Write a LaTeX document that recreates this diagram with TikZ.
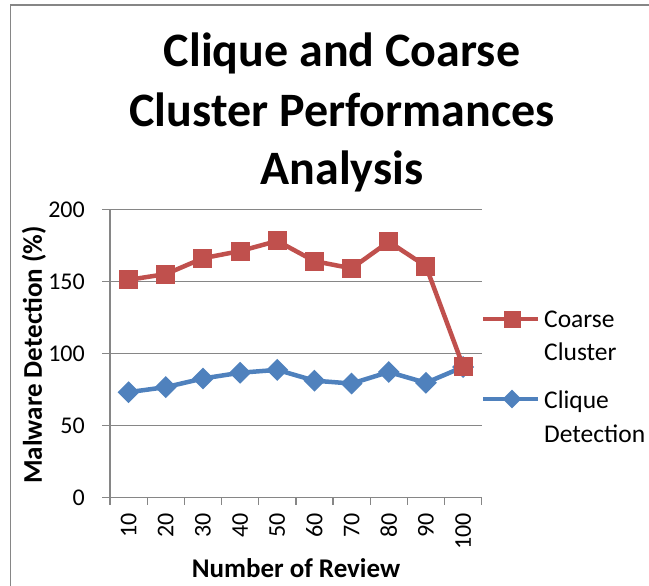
\documentclass[tikz,border=0pt]{standalone}
\usepackage{fontspec}
\setmainfont{Carlito}
\usetikzlibrary{shapes.geometric}
\definecolor{redS}{RGB}{192,80,77}
\definecolor{blueS}{RGB}{79,129,189}
\definecolor{gridc}{RGB}{134,134,134}
\tikzset{
  gridline/.style={draw=gridc, line width=1.3pt},
  frameline/.style={draw=gridc, line width=1.6pt},
  serline/.style={line width=4.5pt, line join=round},
  sqmark/.style={rectangle, fill=redS, minimum size=19pt, inner sep=0pt},
  dmmark/.style={diamond, fill=blueS, minimum width=22pt, minimum height=22pt, inner sep=0pt},
  ticklab/.style={font=\fontsize{24}{28}\selectfont, inner sep=0pt},
  axlab/.style={font=\fontsize{27}{32}\selectfont\bfseries, inner sep=0pt},
  leglab/.style={font=\fontsize{25.5}{30}\selectfont, inner sep=0pt, anchor=base west},
  titlelab/.style={font=\fontsize{48}{59}\selectfont\bfseries, anchor=base},
}
\begin{document}
\begin{tikzpicture}[x=1pt,y=-1pt]
\useasboundingbox (0,0) rectangle (649,586);
% outer frame (left and top only visible)
\draw[frameline] (10.5,586) -- (10.5,5) -- (649,5);
% title
\node[titlelab] (t1) at (342,67) {Clique and Coarse};
\node[titlelab] (t2) at (342,127) {Cluster Performances};
\node[titlelab] (t3) at (342,185) {Analysis};
% grid and axes
\foreach \v in {0,50,100,150,200}{
  \draw[gridline] (102,{497.3-1.44*\v}) -- (481.7,{497.3-1.44*\v});
  \node[ticklab, anchor=east] (yl\v) at (85,{497.3-1.44*\v}) {\v};
}
\draw[gridline] (110,209) -- (110,505);
\foreach \i in {1,...,10}{
  \draw[gridline] ({110+37.17*\i},497.3) -- ({110+37.17*\i},505);
}
\foreach \i/\lab in {1/10,2/20,3/30,4/40,5/50,6/60,7/70,8/80,9/90,10/100}{
  \node[ticklab, rotate=90, anchor=east] (xl\i) at ({110+37.17*(\i-0.5)},513) {\lab};
}
\node[axlab, rotate=90] (ylab) at (34,355) {Malware Detection (\%)};
\node[axlab] (xlab) at (296,568) {Number of Review};
% data coordinates
\foreach \i/\v in {1/73,2/76.5,3/82.5,4/86.5,5/88.5,6/81,7/79,8/87,9/79.5,10/90.5}{
  \coordinate (b\i) at ({110+37.17*(\i-0.5)},{497.3-1.44*\v});
}
\foreach \i/\v in {1/151,2/155,3/166,4/171,5/178,6/164,7/159,8/177.5,9/160.5,10/91}{
  \coordinate (r\i) at ({110+37.17*(\i-0.5)},{497.3-1.44*\v});
}
% blue series
\draw[serline, blueS] (b1) -- (b2) -- (b3) -- (b4) -- (b5) -- (b6) -- (b7) -- (b8) -- (b9) -- (b10);
\foreach \i in {1,...,10}{ \node[dmmark] (bm\i) at (b\i) {}; }
% red series
\draw[serline, redS] (r1) -- (r2) -- (r3) -- (r4) -- (r5) -- (r6) -- (r7) -- (r8) -- (r9) -- (r10);
\foreach \i in {1,...,10}{ \node[sqmark] (rm\i) at (r\i) {}; }
% legend
\coordinate (lr1) at (483,319);
\coordinate (lr2) at (538,319);
\draw[serline, redS] (lr1) -- (lr2);
\node[sqmark, minimum size=17pt] (lrm) at (512,319) {};
\node[leglab] (lrt1) at (544,327) {Coarse};
\node[leglab] (lrt2) at (544,360) {Cluster};
\coordinate (lb1) at (483,399);
\coordinate (lb2) at (538,399);
\draw[serline, blueS] (lb1) -- (lb2);
\node[dmmark, minimum width=19pt, minimum height=19pt] (lbm) at (512,399) {};
\node[leglab] (lbt1) at (544,408) {Clique};
\node[leglab] (lbt2) at (544,442) {Detection};
\end{tikzpicture}
\end{document}
